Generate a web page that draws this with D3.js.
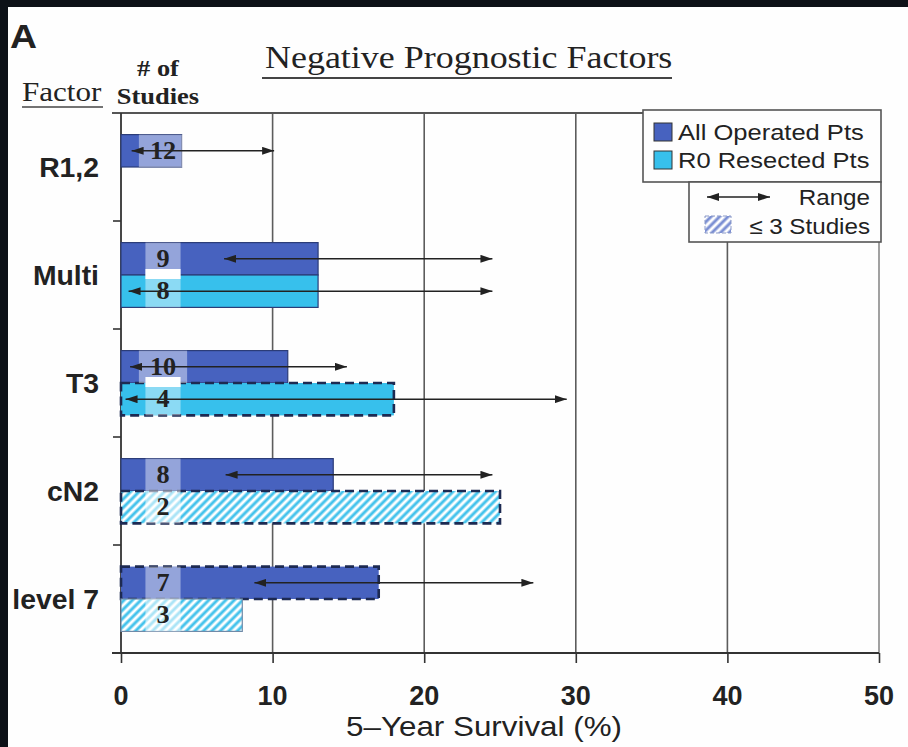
<!DOCTYPE html>
<html>
<head>
<meta charset="utf-8">
<script src="https://cdn.jsdelivr.net/npm/d3@7"></script>
<style>
  body { margin: 0; background: #0d1117; }
  svg { display: block; }
</style>
</head>
<body>
<div id="chart"></div>
<script>
// ---- data ----
const factors = ['R1,2', 'Multi', 'T3', 'cN2', 'level 7'];

const allOpSurvival = [4, 13, 11, 14, 17];
const allOpStudies = [12, 9, 10, 8, 7];
const allOpRangeLow = [0.7, 6.8, 0.6, 6.9, 8.8];
const allOpRangeHigh = [10.1, 24.5, 14.9, 24.5, 27.2];
const allOpDashed = [false, false, false, false, true];

const r0Survival = [null, 13, 18, 25, 8];
const r0Studies = [null, 8, 4, 2, 3];
const r0RangeLow = [null, 0.5, 0.3, null, null];
const r0RangeHigh = [null, 24.5, 29.4, null, null];
const r0Dashed = [false, false, true, true, false];

const xTicks = [0, 10, 20, 30, 40, 50];

const legendLabels = ['All Operated Pts', 'R0 Resected Pts', 'Range', '\u2264 3 Studies'];

// ---- layout ----
const totalWidth = 908;
const totalHeight = 747;
const margin = { top: 113, right: 29, bottom: 94, left: 121 };
const width = totalWidth - margin.left - margin.right;
const height = totalHeight - margin.top - margin.bottom;

const sans = '"Liberation Sans", Arial, Helvetica, sans-serif';
const serif = '"Liberation Serif", "Times New Roman", serif';
const textStretch = 1.15; // the figure's lettering is a bit wide

const colors = {
  allOp: '#4762bf',
  r0: '#37c0ec',
  barEdge: '#2b3c78',
  dash: '#1d2a52',
  grid: '#5c5c5c',
  ink: '#222222',
};

// factor rows built from the arrays above
const rows = factors.map((name, i) => ({
  name,
  bars: [
    {
      kind: 'allOp', value: allOpSurvival[i], studies: allOpStudies[i],
      low: allOpRangeLow[i], high: allOpRangeHigh[i], dashed: allOpDashed[i],
    },
    {
      kind: 'r0', value: r0Survival[i], studies: r0Studies[i],
      low: r0RangeLow[i], high: r0RangeHigh[i], dashed: r0Dashed[i],
    },
  ].filter((b) => b.value !== null),
}));

const svg = d3
  .select('#chart')
  .append('svg')
  .attr('width', totalWidth)
  .attr('height', totalHeight);

// white page on the dark frame
svg.append('rect')
  .attr('x', 8).attr('y', 7)
  .attr('width', totalWidth - 8).attr('height', totalHeight - 7)
  .attr('fill', '#fefefe');

const defs = svg.append('defs');

// diagonal hatch for bars from <= 3 studies
const addHatch = (id, color) => {
  const p = defs.append('pattern')
    .attr('id', id)
    .attr('patternUnits', 'userSpaceOnUse')
    .attr('width', 6).attr('height', 6)
    .attr('patternTransform', 'rotate(45)');
  p.append('rect').attr('width', 6).attr('height', 6).attr('fill', '#ffffff');
  p.append('line')
    .attr('x1', 2).attr('y1', 0).attr('x2', 2).attr('y2', 6)
    .attr('stroke', color).attr('stroke-width', 3);
};
addHatch('hatchCyan', '#45c3ec');
addHatch('hatchBlue', '#7b8fd3');

// filled arrow head used on both ends of the range lines
defs.append('marker')
  .attr('id', 'head')
  .attr('viewBox', '0 0 12 8')
  .attr('refX', 12).attr('refY', 4)
  .attr('markerUnits', 'userSpaceOnUse')
  .attr('markerWidth', 12).attr('markerHeight', 8)
  .attr('orient', 'auto-start-reverse')
  .append('path')
  .attr('d', 'M0,0L12,4L0,8Z')
  .attr('fill', colors.ink);

// text helper: stretched horizontally like the original lettering
const addText = (parent, x, y, str, font, anchor = 'start', stretch = textStretch) =>
  parent.append('text')
    .attr('transform', `translate(${x},${y}) scale(${stretch},1)`)
    .attr('text-anchor', anchor)
    .attr('fill', colors.ink)
    .style('font', font)
    .text(str);

// ---- scales ----
const xScale = d3.scaleLinear().domain([0, 50]).range([margin.left, margin.left + width]);
const yScale = d3.scaleBand().domain(factors).range([margin.top, margin.top + height]);
const barH = yScale.bandwidth() * 0.3;
const rowCenter = (name) => yScale(name) + yScale.bandwidth() / 2;

const plotTop = margin.top;
const plotBottom = margin.top + height;

// ---- headings ----
addText(svg, 10, 48, 'A', `bold 34px ${sans}`, 'start', 1.1);
addText(svg, 265, 68, 'Negative Prognostic Factors', `31px ${serif}`, 'start', 1.16);
svg.append('line')
  .attr('x1', 262).attr('x2', 672).attr('y1', 78).attr('y2', 78)
  .attr('stroke', '#444').attr('stroke-width', 2);

addText(svg, 22, 101, 'Factor', `27px ${serif}`);
svg.append('line')
  .attr('x1', 22).attr('x2', 103).attr('y1', 107).attr('y2', 107)
  .attr('stroke', '#444').attr('stroke-width', 1.5);
addText(svg, 158, 76, '# of', `bold 23px ${serif}`, 'middle');
addText(svg, 158, 104, 'Studies', `bold 23px ${serif}`, 'middle');

// ---- grid and frame ----
svg.append('g')
  .selectAll('line')
  .data(xTicks.slice(1, -1))
  .join('line')
  .attr('x1', (d) => xScale(d)).attr('x2', (d) => xScale(d))
  .attr('y1', plotTop).attr('y2', plotBottom)
  .attr('stroke', colors.grid).attr('stroke-width', 1.6);

svg.append('line')
  .attr('x1', xScale(50)).attr('x2', xScale(50))
  .attr('y1', plotTop).attr('y2', plotBottom)
  .attr('stroke', '#8a8a8a').attr('stroke-width', 1.6);

svg.append('line')
  .attr('x1', margin.left - 9).attr('x2', xScale(50))
  .attr('y1', plotTop).attr('y2', plotTop)
  .attr('stroke', '#555').attr('stroke-width', 1.8);

// x axis
const xAxis = svg.append('g')
  .attr('transform', `translate(0, ${plotBottom})`)
  .call(d3.axisBottom(xScale).tickValues(xTicks).tickSize(10).tickSizeOuter(0).tickFormat(''));
xAxis.select('.domain').remove();
xAxis.selectAll('.tick line').attr('stroke', '#333').attr('stroke-width', 1.6);
svg.append('line')
  .attr('x1', margin.left - 9).attr('x2', xScale(50))
  .attr('y1', plotBottom).attr('y2', plotBottom)
  .attr('stroke', '#333').attr('stroke-width', 1.8);

xTicks.forEach((t) => {
  addText(svg, xScale(t), 705, `${t}`, `bold 27px ${sans}`, 'middle', 1.0);
});
addText(svg, 484, 736, '5\u2013Year Survival  (%)', `28px ${sans}`, 'middle', 1.12);

// y axis: line plus ticks between the factor rows
svg.append('line')
  .attr('x1', margin.left).attr('x2', margin.left)
  .attr('y1', plotTop).attr('y2', plotBottom)
  .attr('stroke', '#333').attr('stroke-width', 1.8);
svg.append('g')
  .selectAll('line')
  .data(factors.slice(1))
  .join('line')
  .attr('x1', margin.left - 8).attr('x2', margin.left)
  .attr('y1', (d) => yScale(d)).attr('y2', (d) => yScale(d))
  .attr('stroke', '#333').attr('stroke-width', 1.6);

factors.forEach((f) => {
  addText(svg, 99, rowCenter(f) + 10, f, `bold 27px ${sans}`, 'end', 1.05);
});

// ---- bars ----
const barY = (row, j) => rowCenter(row.name) + (j === 0 ? -barH : 0);
const barFill = (b) => {
  if (b.studies <= 3) return 'url(#hatchCyan)';
  return b.kind === 'allOp' ? colors.allOp : colors.r0;
};

const barsLayer = svg.append('g');
const labelLayer = svg.append('g');
const arrowLayer = svg.append('g');

const labelCenter = xScale(0) + 42;

rows.forEach((row) => {
  row.bars.forEach((b, j) => {
    const y0 = barY(row, j);
    barsLayer.append('rect')
      .attr('x', xScale(0))
      .attr('y', y0)
      .attr('width', xScale(b.value) - xScale(0))
      .attr('height', barH)
      .attr('fill', barFill(b))
      .attr('stroke', b.dashed ? colors.dash : (b.studies <= 3 ? '#6f8aa8' : colors.barEdge))
      .attr('stroke-width', b.dashed ? 2.6 : 1.2)
      .attr('stroke-dasharray', b.dashed ? '9,5' : null);
  });
});

// number-of-studies boxes and labels
rows.forEach((row) => {
  row.bars.forEach((b, j) => {
    const y0 = barY(row, j);
    const txt = addText(labelLayer, labelCenter, y0 + barH / 2 + 8, `${b.studies}`, `bold 25px ${serif}`, 'middle', 1.05);
    const w = txt.node().getComputedTextLength() * 1.05 + 22;
    labelLayer.insert('rect', 'text')
      .attr('x', labelCenter - w / 2)
      .attr('y', y0)
      .attr('width', w)
      .attr('height', barH)
      .attr('fill', '#ffffff')
      .attr('fill-opacity', b.studies <= 3 ? 0.55 : 0.42);
    // white seam where the two numbered boxes meet on solid bars
    if (j === 1 && b.studies > 3) {
      labelLayer.insert('rect', 'text')
        .attr('x', labelCenter - w / 2)
        .attr('y', y0 - 6)
        .attr('width', w)
        .attr('height', 10)
        .attr('fill', '#ffffff');
    }
  });
});

// range arrows
rows.forEach((row) => {
  row.bars.forEach((b, j) => {
    if (b.low === null) return;
    const yc = barY(row, j) + barH / 2;
    arrowLayer.append('line')
      .attr('x1', xScale(b.low)).attr('x2', xScale(b.high))
      .attr('y1', yc).attr('y2', yc)
      .attr('stroke', colors.ink).attr('stroke-width', 1.6)
      .attr('marker-start', 'url(#head)')
      .attr('marker-end', 'url(#head)');
  });
});

// ---- legend ----
const legend = svg.append('g');
legend.append('rect')
  .attr('x', 643).attr('y', 110).attr('width', 238).attr('height', 72)
  .attr('fill', '#fefefe').attr('stroke', '#555').attr('stroke-width', 1.6);
legend.append('rect')
  .attr('x', 689).attr('y', 182).attr('width', 192).attr('height', 60)
  .attr('fill', '#fefefe').attr('stroke', '#555').attr('stroke-width', 1.6);

[colors.allOp, colors.r0].forEach((c, i) => {
  legend.append('rect')
    .attr('x', 654).attr('y', 123 + i * 28).attr('width', 18).attr('height', 18)
    .attr('fill', c).attr('stroke', '#333').attr('stroke-width', 1);
  addText(legend, 678, 140 + i * 28, legendLabels[i], `22px ${sans}`, 'start', 1.16);
});

legend.append('line')
  .attr('x1', 707).attr('x2', 770).attr('y1', 197).attr('y2', 197)
  .attr('stroke', colors.ink).attr('stroke-width', 1.6)
  .attr('marker-start', 'url(#head)')
  .attr('marker-end', 'url(#head)');
addText(legend, 870, 205, legendLabels[2], `22px ${sans}`, 'end', 1.1);

legend.append('rect')
  .attr('x', 705).attr('y', 216).attr('width', 26).attr('height', 17)
  .attr('fill', 'url(#hatchBlue)').attr('stroke', '#8a99c8').attr('stroke-width', 1)
  .attr('stroke-dasharray', '4,2');
addText(legend, 870, 234, legendLabels[3], `22px ${sans}`, 'end', 1.1);
</script>
</body>
</html>
